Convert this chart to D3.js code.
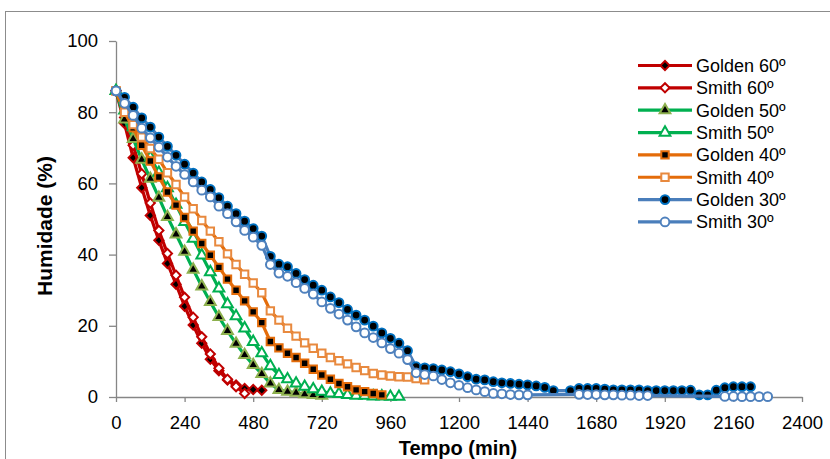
<!DOCTYPE html>
<html>
<head>
<meta charset="utf-8">
<script src="https://cdn.jsdelivr.net/npm/d3@7"></script>
<style>
  html, body { margin: 0; padding: 0; background: #fff; }
  svg { display: block; }
  text { font-family: "Liberation Sans", Arial, sans-serif; }
</style>
</head>
<body>
<svg id="chart" width="830" height="459"></svg>
<script>
// ---------------- DATA ----------------
const tempo = [0,30,60,90,120,150,180,210,240,270,300,330,360,390,420,450,480,510,540,570,
  600,630,660,690,720,750,780,810,840,870,900,930,960,990,1020,1050,1080,1110,1140,1170,
  1200,1230,1260,1290,1320,1350,1380,1410,1440,1470,1500,1530,1560,1590,1620,1650,1680,1710,1740,1770,
  1800,1830,1860,1890,1920,1950,1980,2010,2040,2070,2100,2130,2160,2190,2220,2250,2280];

const golden60 = [86,76.8,67.2,58.8,51.0,44.0,37.5,31.7,25.5,20.2,15.1,10.6,7.4,4.8,3.4,2.4,2.1,1.9];
const smith60  = [86,78.5,70.7,62.7,54.5,46.8,40.3,34.2,28.0,22.4,16.9,12.1,8.1,5.0,2.9,1.0];
const golden50 = [86,78,72.5,66.7,61.3,56.0,50.6,45.7,40.8,35.8,31.1,26.7,22.5,18.6,15.0,11.8,9.0,6.5,3.8,2.0,
  1.5,1.2,0.8,0.6,0.4];
const smith50  = [86,80.5,75.8,71.5,67.3,63,58.7,54,49.2,44.5,39.8,35.1,30.5,26.1,22.7,19.3,15.5,12.3,8.7,6.2,
  5.0,3.8,2.9,2.2,1.5,1.0,0.9,0.6,0.4,0.4,0.2,0.2,0.1,0.1];
const golden40 = [86,80.0,75.6,70.7,66.3,61.8,57.6,53.9,50.4,46.6,43.1,39.8,36.4,33.1,30.0,27.0,23.9,20.9,15.6,13.8,
  12.3,11.1,9.5,7.8,6.2,5.0,3.8,2.9,2.0,1.5,1.0,0.6];
const smith40  = [86,80,76.5,73.0,69.8,66.8,63.0,59.7,56.2,52.9,49.6,46.6,43.6,40.2,37.2,34.5,32.0,29.3,24.2,21.6,
  19.3,17.1,15.2,13.7,12.3,11.1,10.2,9.3,8.3,7.4,6.6,6.2,5.9,5.7,5.6,5.2,4.8];
const golden30 = [86,84.2,81.4,78.4,75.8,73.0,70.4,67.9,65.4,62.9,60.4,58.3,56.0,53.6,51.5,49.4,47.3,45.2,39.5,37.3,
  36.6,34.7,33.0,31.4,30.0,28.1,26.5,24.6,23.0,21.6,19.9,18.0,16.5,15.1,13.0,8.5,8.2,8.0,7.6,7.1,
  6.5,5.7,5.0,4.8,4.3,4.0,3.8,3.6,3.4,3.1,2.7,1.8,null,1.8,2.4,2.4,2.4,2.2,2.0,2.0,
  2.0,2.0,1.8,1.8,1.8,1.8,1.8,1.9,0.6,0.6,1.9,2.6,2.9,2.9,2.9];
const smith30  = [86,82.5,79.1,75.5,72.8,70.2,67.4,64.8,62.5,60.4,58.1,56.2,53.6,51.5,49.2,46.8,44.9,42.6,37.2,34.8,
  33.9,32.1,30.5,28.9,26.7,24.9,23.3,21.6,19.7,18.0,16.7,15.2,13.6,12.3,10.5,6.8,6.3,5.9,4.9,4.0,
  3.3,2.6,2.0,1.5,1.0,0.9,0.7,0.6,0.6,null,null,null,null,null,0.75,0.7,0.7,0.6,0.6,0.5,
  0.5,0.4,0.4,null,null,null,null,null,null,null,null,0.15,0.15,0.1,0.1,0.1,0.1];

const seriesNames = ["Golden 60º","Smith 60º","Golden 50º","Smith 50º","Golden 40º","Smith 40º","Golden 30º","Smith 30º"];
const xTicks = [0,240,480,720,960,1200,1440,1680,1920,2160,2400];
const yTicks = [0,20,40,60,80,100];
const xTitle = "Tempo (min)";
const yTitle = "Humidade (%)";

// ---------------- STYLE ----------------
const styles = [
  {data: golden60, line: "#C00000", fill: "#000000", stroke: "#C00000", shape: "diamond"},
  {data: smith60,  line: "#C00000", fill: "#ffffff", stroke: "#C00000", shape: "diamond"},
  {data: golden50, line: "#00B050", fill: "#000000", stroke: "#8DB04E", shape: "triangle"},
  {data: smith50,  line: "#00B050", fill: "#ffffff", stroke: "#00B050", shape: "triangle"},
  {data: golden40, line: "#E46C0A", fill: "#000000", stroke: "#E46C0A", shape: "square"},
  {data: smith40,  line: "#E46C0A", fill: "#ffffff", stroke: "#E8893E", shape: "square"},
  {data: golden30, line: "#4A7EBB", fill: "#000000", stroke: "#0070C0", shape: "circle"},
  {data: smith30,  line: "#4A7EBB", fill: "#ffffff", stroke: "#4F81BD", shape: "circle"}
];

const svg = d3.select("#chart");
const x = d3.scaleLinear().domain([0, 2400]).range([116, 802]);
const y = d3.scaleLinear().domain([0, 100]).range([397, 41]);

// outer chart border
svg.append("rect").attr("x", 5.5).attr("y", 11.5).attr("width", 840).attr("height", 470)
  .attr("fill", "none").attr("stroke", "#8c8c8c").attr("stroke-width", 1);

// axes
const axisColor = "#868686";
const gy = svg.append("g").attr("transform", "translate(116,0)")
  .call(d3.axisLeft(y).tickValues(yTicks).tickSize(7).tickSizeOuter(0).tickPadding(11).tickFormat(d3.format("d")));
const gx = svg.append("g").attr("transform", "translate(0,397)")
  .call(d3.axisBottom(x).tickValues(xTicks).tickSize(5).tickSizeOuter(0).tickPadding(14).tickFormat(d3.format("d")));
[gx, gy].forEach(g => {
  g.select(".domain").attr("stroke", axisColor).attr("stroke-width", 1.3);
  g.selectAll(".tick line").attr("stroke", axisColor).attr("stroke-width", 1.3);
  g.selectAll(".tick text").attr("fill", "#000").style("font-size", "18.5px")
    .style("font-family", "'Liberation Sans', Arial, sans-serif");
});

// axis titles
svg.append("text").attr("x", 458).attr("y", 455).attr("text-anchor", "middle")
  .style("font-size", "20px").style("font-weight", "bold").text(xTitle);
svg.append("text").attr("transform", "translate(52,226) rotate(-90)").attr("text-anchor", "middle")
  .style("font-size", "21px").style("font-weight", "bold").text(yTitle);

// marker symbol
function symbolPath(shape) {
  if (shape === "circle") return d3.symbol().type(d3.symbolCircle).size(60)();
  if (shape === "square") return d3.symbol().type(d3.symbolSquare).size(55)();
  if (shape === "triangle") return d3.symbol().type(d3.symbolTriangle).size(50)();
  return d3.symbol().type(d3.symbolSquare).size(42)();
}
function symbolRot(shape) { return shape === "diamond" ? " rotate(45)" : ""; }

const line = d3.line().x(d => x(d.t)).y(d => y(d.v));

styles.forEach(s => {
  const pts = s.data.map((v, i) => ({t: tempo[i], v: v})).filter(d => d.v !== null);
  const g = svg.append("g");
  g.append("path").datum(pts).attr("d", line).attr("fill", "none")
    .attr("stroke", s.line).attr("stroke-width", 3.2).attr("stroke-linejoin", "round");
  g.selectAll("path.m").data(pts).enter().append("path").attr("class", "m")
    .attr("d", symbolPath(s.shape))
    .attr("transform", d => `translate(${x(d.t)},${y(d.v)})` + symbolRot(s.shape))
    .attr("fill", s.fill).attr("stroke", s.stroke).attr("stroke-width", 2);
});

// legend
const leg = svg.append("g");
styles.forEach((s, i) => {
  const yy = 65.5 + i * 22.35;
  leg.append("line").attr("x1", 638).attr("x2", 692).attr("y1", yy).attr("y2", yy)
    .attr("stroke", s.line).attr("stroke-width", 3.2);
  leg.append("path").attr("d", symbolPath(s.shape))
    .attr("transform", `translate(665,${yy})` + symbolRot(s.shape))
    .attr("fill", s.fill).attr("stroke", s.stroke).attr("stroke-width", 2);
  leg.append("text").attr("x", 696).attr("y", yy + 6.5).style("font-size", "18px")
    .attr("fill", "#000").text(seriesNames[i]);
});
</script>
</body>
</html>
